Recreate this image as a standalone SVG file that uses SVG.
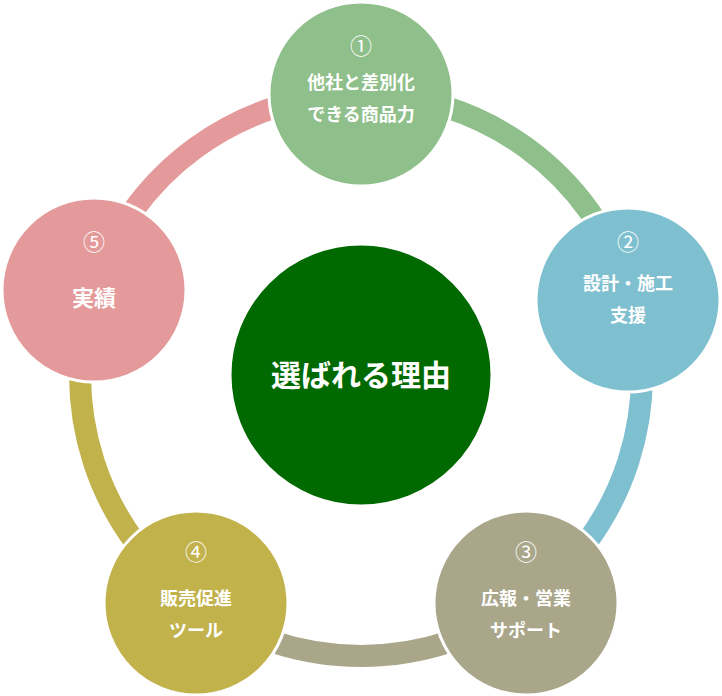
<svg xmlns="http://www.w3.org/2000/svg" width="722" height="696" viewBox="0 0 722 696">
<style>
.arc{fill:none;stroke-width:22}
.n{stroke:#fff;stroke-width:3}
text{font-family:"Noto Sans CJK JP","Noto Sans",sans-serif;font-weight:bold;fill:#fff;text-anchor:middle}
.t{font-size:18px}
.num{font-size:22px;font-weight:normal}
</style>
<rect width="722" height="696" fill="#fff"/>
<g id="connectors">
<path class="arc" stroke="#8fbf8a" d="M361,94 A281,281 0 0 1 628.2,288.2"/>
<path class="arc" stroke="#7fc0d0" d="M628.2,288.2 A281,281 0 0 1 526.2,602.3"/>
<path class="arc" stroke="#a9a68a" d="M526.2,602.3 A281,281 0 0 1 195.8,602.3"/>
<path class="arc" stroke="#c2b24c" d="M195.8,602.3 A281,281 0 0 1 93.8,288.2"/>
<path class="arc" stroke="#e49a9a" d="M93.8,288.2 A281,281 0 0 1 361,94"/>
</g>
<g id="center"><circle cx="361" cy="375" r="131" fill="#006a00" class="n"/><text x="361" y="386" font-size="30">選ばれる理由</text></g>
<g id="n1"><circle cx="361" cy="94" r="92" fill="#8fbf8a" class="n"/><text class="num" x="361" y="54">①</text><text class="t" x="361" y="89">他社と差別化</text><text class="t" x="361" y="121">できる商品力</text></g>
<g id="n2"><circle cx="628" cy="300" r="92" fill="#7fc0d0" class="n"/><text class="num" x="628" y="250">②</text><text class="t" x="628" y="290">設計・施工</text><text class="t" x="628" y="322">支援</text></g>
<g id="n3"><circle cx="526" cy="603" r="92" fill="#a9a68a" class="n"/><text class="num" x="526" y="560">③</text><text class="t" x="526" y="605">広報・営業</text><text class="t" x="526" y="637">サポート</text></g>
<g id="n4"><circle cx="196" cy="603" r="92" fill="#c2b24c" class="n"/><text class="num" x="196" y="560">④</text><text class="t" x="196" y="605">販売促進</text><text class="t" x="196" y="637">ツール</text></g>
<g id="n5"><circle cx="94" cy="290" r="92" fill="#e49a9a" class="n"/><text class="num" x="94" y="250">⑤</text><text x="94" y="306" font-size="22">実績</text></g>
</svg>
